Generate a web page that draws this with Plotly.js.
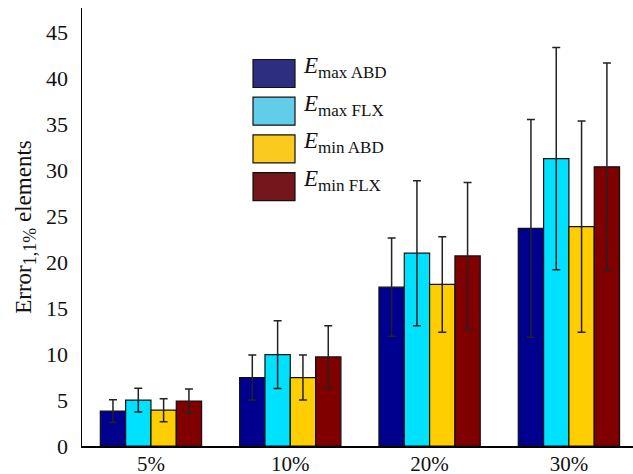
<!DOCTYPE html>
<html><head><meta charset="utf-8">
<script src="https://cdn.plot.ly/plotly-3.0.1.min.js"></script>
<style>html,body{margin:0;padding:0;background:#fff;}</style>
</head><body><div id="chart"></div>
<script>
const categories = ["5%", "10%", "20%", "30%"];
const seriesNames = ["<i>E</i><sub><span style='font-size:17px'>max ABD</span></sub>", "<i>E</i><sub><span style='font-size:17px'>max FLX</span></sub>", "<i>E</i><sub><span style='font-size:17px'>min ABD</span></sub>", "<i>E</i><sub><span style='font-size:17px'>min FLX</span></sub>"];
const emaxABD = [3.8, 7.45, 17.3, 23.7];
const emaxFLX = [5.0, 9.95, 21.0, 31.3];
const eminABD = [3.9, 7.45, 17.6, 23.9];
const eminFLX = [4.9, 9.7, 20.7, 30.4];
const errMaxABD = [1.25, 2.45, 5.35, 11.85];
const errMaxFLX = [1.3, 3.7, 7.9, 12.1];
const errMinABD = [1.25, 2.45, 5.2, 11.5];
const errMinFLX = [1.3, 3.4, 8.0, 11.3];

const values = [emaxABD, emaxFLX, eminABD, eminFLX];
const errors = [errMaxABD, errMaxFLX, errMinABD, errMinFLX];
const colors = ["#00008f", "#00e1ff", "#ffce00", "#800000"];
const legendColors = ["#2e2e80", "#62cde8", "#facb1e", "#75161c"];

const xpos = categories.map((c, i) => i + 1);
const traces = values.map((v, k) => ({
  type: "bar", x: xpos, y: v, name: seriesNames[k],
  marker: {color: colors[k], line: {color: "#111", width: 1.2}},
  error_y: {type: "data", array: errors[k], visible: true, color: "#222", thickness: 1.5, width: 4},
  showlegend: false
}));

const shapes = [], annotations = [];
const lx0 = 253, lw = 42, lh = 28, ly0 = 59.5, pitch = 37.7;
seriesNames.forEach((n, k) => {
  const y0 = ly0 + k * pitch;
  shapes.push({type: "rect", xref: "paper", yref: "paper",
    x0: (lx0 - 82) / 551, x1: (lx0 + lw - 82) / 551,
    y0: 1 - (y0 + lh - 8) / 438, y1: 1 - (y0 - 8) / 438,
    fillcolor: legendColors[k], line: {color: "#111", width: 1.2}});
  annotations.push({xref: "paper", yref: "paper", x: (lx0 + lw + 6 - 82) / 551,
    y: 1 - (y0 + lh / 2 - 6 - 8) / 438, xanchor: "left", yanchor: "middle",
    text: n, showarrow: false, font: {family: "Liberation Serif", size: 23, color: "#111"}});
});

const layout = {
  width: 633, height: 474,
  margin: {l: 82, r: 0, t: 8, b: 28},
  paper_bgcolor: "#fff", plot_bgcolor: "#fff",
  font: {family: "Liberation Serif", size: 22, color: "#111"},
  barmode: "group", bargap: 0.273, bargroupgap: 0,
  showlegend: false,
  xaxis: {range: [0.505, 4.46], tickvals: xpos, ticktext: categories, showgrid: false, zeroline: false,
    showline: true, linecolor: "#000", linewidth: 1.5, ticks: "", ticklabelstandoff: -2,
    tickfont: {family: "Liberation Serif", size: 21, color: "#111"}},
  yaxis: {range: [0, 47.7], tickvals: [0,5,10,15,20,25,30,35,40,45], showgrid: false, zeroline: false,
    showline: true, linecolor: "#000", linewidth: 1.5, ticks: "", ticklabelstandoff: 8,
    tickfont: {family: "Liberation Serif", size: 22, color: "#111"},
    title: {text: "Error<sub><span style='font-size:18px'>1,1%</span></sub> elements", font: {family: "Liberation Serif", size: 23, color: "#111"}, standoff: 8}},
  shapes: shapes, annotations: annotations
};
Plotly.newPlot("chart", traces, layout, {staticPlot: true, displayModeBar: false});
</script></body></html>
